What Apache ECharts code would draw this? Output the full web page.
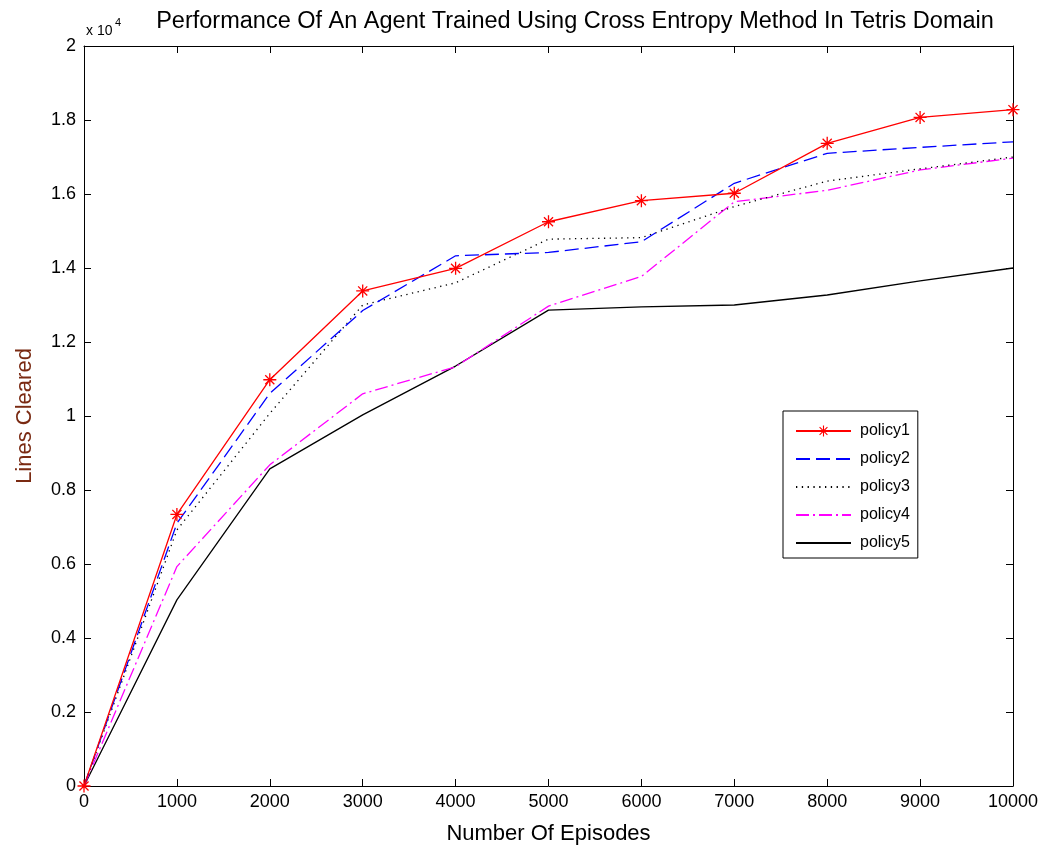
<!DOCTYPE html>
<html lang="en">
<head>
    <meta charset="UTF-8">
    <title>Tetris CEM</title>
    <script src="https://cdn.jsdelivr.net/npm/echarts@6/dist/echarts.min.js"></script>
    <style>
        html, body { margin: 0; padding: 0; background: #fff; }
        #main { width: 1046px; height: 852px; }
    </style>
</head>
<body>
<div id="main"></div>
<script type="text/javascript">
    // episodes on the x axis
    var episodes = [0, 1000, 2000, 3000, 4000, 5000, 6000, 7000, 8000, 9000, 10000];

    // lines cleared
    var policy1 = [0, 7340, 10980, 13380, 13990, 15250, 15820, 16020, 17370, 18070, 18280];
    var policy2 = [0, 7100, 10610, 12850, 14330, 14420, 14710, 16290, 17100, 17260, 17410];
    var policy3 = [0, 6920, 10070, 13000, 13600, 14780, 14820, 15660, 16350, 16680, 17000];
    var policy4 = [0, 5930, 8680, 10600, 11330, 12970, 13770, 15790, 16100, 16650, 16970];
    var policy5 = [0, 5030, 8570, 10030, 11350, 12860, 12950, 13000, 13270, 13650, 14000];

    var names = ['policy1', 'policy2', 'policy3', 'policy4', 'policy5'];

    // asterisk marker, drawn as four thin bars
    var star = 'path://M-1,-10L1,-10L1,10L-1,10Z' +
        'M-10,-1L10,-1L10,1L-10,1Z' +
        'M-7.7,-6.3L-6.3,-7.7L7.7,6.3L6.3,7.7Z' +
        'M-7.7,6.3L6.3,-7.7L7.7,-6.3L-6.3,7.7Z';

    function pairs(arr) {
        return arr.map(function (v, i) { return [episodes[i], v]; });
    }

    var font = 'Liberation Sans, Arial, sans-serif';

    // legend: only policy1 keeps its marker
    var legendData = names.map(function (n, i) {
        return i === 0 ? { name: n } : { name: n, itemStyle: { opacity: 0 } };
    });

    var chart = echarts.init(document.getElementById('main'));
    var option = {
        backgroundColor: '#fff',
        animation: false,
        title: {
            text: 'Performance Of An Agent Trained Using Cross Entropy Method In Tetris Domain',
            left: 570,
            top: 5,
            textAlign: 'center',
            textStyle: { fontFamily: font, fontSize: 23.5, fontWeight: 'normal', color: '#000' }
        },
        grid: { left: 84, right: 33, top: 46, bottom: 66, outerBoundsMode: 'none', containLabel: false },
        legend: {
            orient: 'vertical',
            left: 783,
            top: 411,
            padding: [12, 8, 7, 12],
            itemWidth: 55,
            itemHeight: 14,
            itemGap: 12,
            backgroundColor: '#fff',
            borderColor: '#000',
            borderWidth: 1,
            textStyle: { fontFamily: font, fontSize: 16, color: '#000', padding: [0, 0, 0, 4] },
            data: legendData
        },
        graphic: [
            { type: 'text', left: 86, top: 24, style: { text: 'x 10', font: '14px ' + font, fill: '#000' } },
            { type: 'text', left: 115, top: 17, style: { text: '4', font: '11px ' + font, fill: '#000' } }
        ],
        xAxis: [{
            type: 'value',
            min: 0, max: 10000, interval: 1000,
            name: 'Number Of Episodes',
            nameLocation: 'middle',
            nameGap: 37,
            nameTextStyle: { fontFamily: font, fontSize: 22, color: '#000' },
            axisLine: { onZero: false, lineStyle: { color: '#000', width: 1 } },
            axisTick: { inside: true, length: 7, lineStyle: { color: '#000' } },
            axisLabel: {
                fontFamily: font, fontSize: 18, color: '#000', margin: 7,
                formatter: function (v) { return String(v); }
            },
            splitLine: { show: false }
        }, {
            type: 'value', position: 'top',
            min: 0, max: 10000, interval: 1000,
            axisLine: { onZero: false, lineStyle: { color: '#000', width: 1 } },
            axisTick: { inside: true, length: 7, lineStyle: { color: '#000' } },
            axisLabel: { show: false },
            splitLine: { show: false }
        }],
        yAxis: [{
            type: 'value',
            min: 0, max: 20000, interval: 2000,
            name: 'Lines Cleared',
            nameLocation: 'middle',
            nameGap: 48,
            nameTextStyle: { fontFamily: font, fontSize: 22, color: '#7a2a12' },
            axisLine: { onZero: false, lineStyle: { color: '#000', width: 1 } },
            axisTick: { inside: true, length: 7, lineStyle: { color: '#000' } },
            axisLabel: {
                fontFamily: font, fontSize: 18, color: '#000', margin: 8,
                formatter: function (v) { return String(parseFloat((v / 10000).toFixed(1))); }
            },
            splitLine: { show: false }
        }, {
            type: 'value', position: 'right',
            min: 0, max: 20000, interval: 2000,
            axisLine: { onZero: false, lineStyle: { color: '#000', width: 1 } },
            axisTick: { inside: true, length: 7, lineStyle: { color: '#000' } },
            axisLabel: { show: false },
            splitLine: { show: false }
        }],
        series: [
            {
                name: 'policy1', type: 'line', data: pairs(policy1),
                symbol: star, symbolSize: 13, showSymbol: true,
                itemStyle: { color: '#ff0000' },
                lineStyle: { color: '#ff0000', width: 1.3, type: 'solid' },
                z: 6
            },
            {
                name: 'policy2', type: 'line', data: pairs(policy2), symbol: 'none',
                itemStyle: { color: '#0000ff' },
                lineStyle: { color: '#0000ff', width: 1.3, type: [14, 6] },
                z: 5
            },
            {
                name: 'policy3', type: 'line', data: pairs(policy3), symbol: 'none',
                itemStyle: { color: '#000' },
                lineStyle: { color: '#000', width: 1.3, type: [1.3, 4.5] },
                z: 4
            },
            {
                name: 'policy4', type: 'line', data: pairs(policy4), symbol: 'none',
                itemStyle: { color: '#ff00ff' },
                lineStyle: { color: '#ff00ff', width: 1.3, type: [13, 4, 2, 4] },
                z: 3
            },
            {
                name: 'policy5', type: 'line', data: pairs(policy5), symbol: 'none',
                itemStyle: { color: '#000' },
                lineStyle: { color: '#000', width: 1.3, type: 'solid' },
                z: 2
            }
        ]
    };
    chart.setOption(option);
</script>
</body>
</html>
